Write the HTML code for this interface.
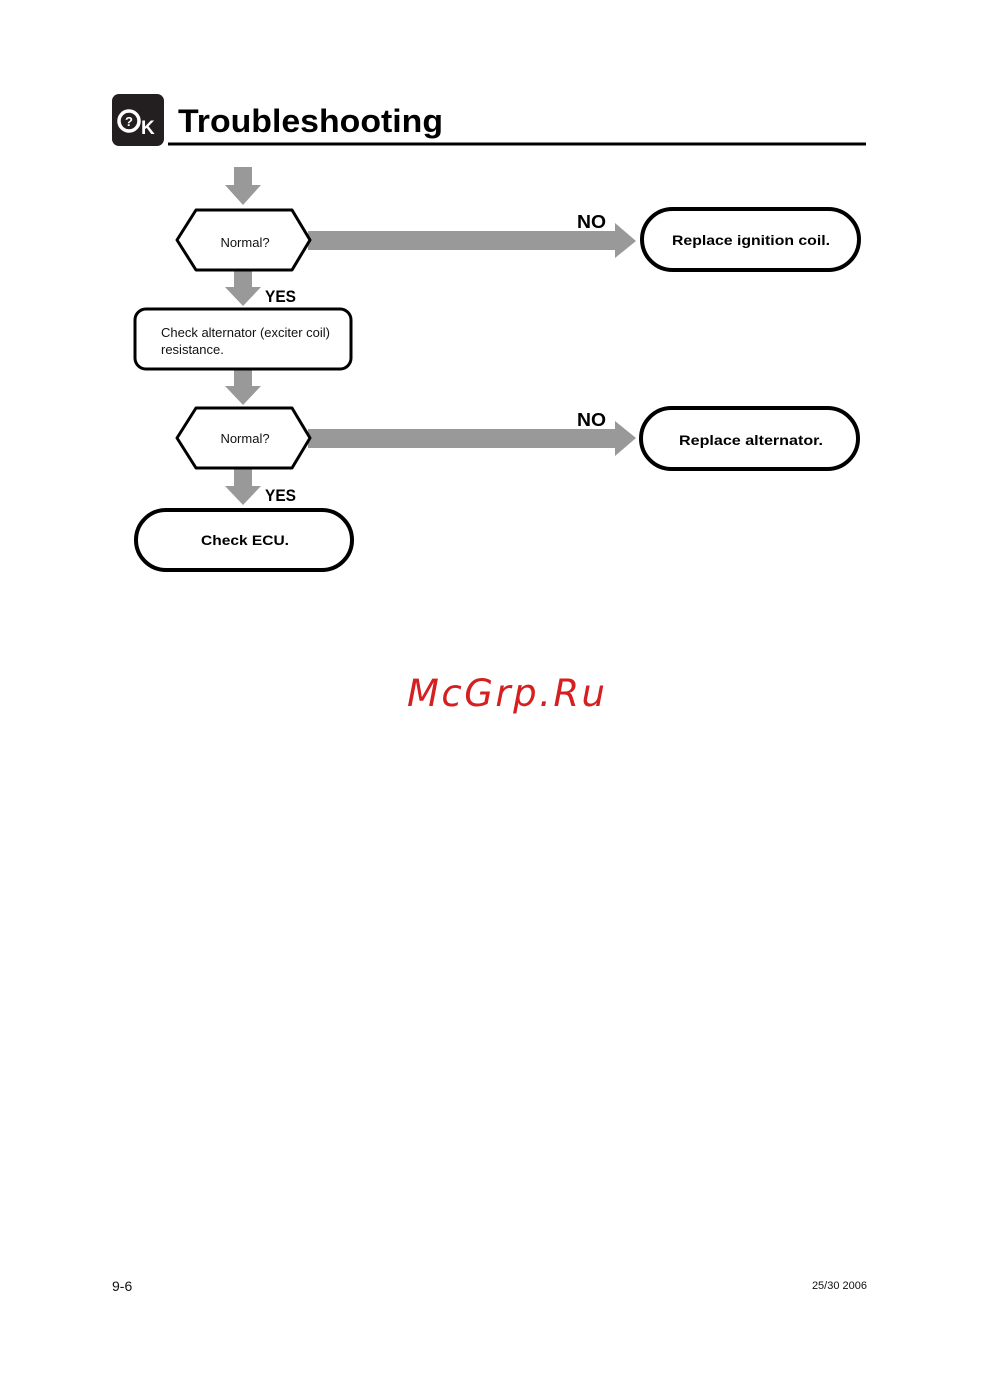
<!DOCTYPE html>
<html><head><meta charset="utf-8"><style>
html,body{margin:0;padding:0;background:#fff;}
svg{display:block;}
</style></head><body>
<svg width="1000" height="1381" viewBox="0 0 1000 1381" xmlns="http://www.w3.org/2000/svg" font-family="Liberation Sans, Arial, sans-serif">
<rect x="112" y="94" width="52" height="52" rx="7" fill="#231f20"/>
<circle cx="129" cy="121" r="10" fill="none" stroke="#fff" stroke-width="3.5"/>
<text x="129" y="126" font-size="13" font-weight="bold" fill="#fff" text-anchor="middle">?</text>
<text x="141" y="134" font-size="19" font-weight="bold" fill="#fff">K</text>
<text x="178" y="132" font-size="32" font-weight="bold" fill="#000" textLength="265" lengthAdjust="spacingAndGlyphs">Troubleshooting</text>
<rect x="168" y="142.5" width="698" height="3" fill="#000"/>

<g fill="#999">
<rect x="234" y="167" width="18" height="19"/><polygon points="225,185 261,185 243,205"/>
<rect x="234" y="270" width="18" height="18"/><polygon points="225,287 261,287 243,306"/>
<rect x="234" y="369" width="18" height="18"/><polygon points="225,386 261,386 243,405"/>
<rect x="234" y="467" width="18" height="20"/><polygon points="225,486 261,486 243,505"/>
<rect x="308" y="231" width="308" height="19"/><polygon points="615,223 615,258 636,241"/>
<rect x="308" y="429" width="308" height="19"/><polygon points="615,421 615,456 636,438"/>
</g>

<g fill="#fff" stroke="#000" stroke-width="3" stroke-linejoin="round">
<polygon points="196,210 292,210 310,240 292,270 196,270 177,240"/>
<polygon points="196,408 292,408 310,438 292,468 196,468 177,438"/>
<rect x="135" y="309" width="216" height="60" rx="11"/>
</g>
<g fill="#fff" stroke="#000" stroke-width="4">
<rect x="642" y="209" width="217" height="61" rx="30.5"/>
<rect x="641" y="408" width="217" height="61" rx="30.5"/>
<rect x="136" y="510" width="216" height="60" rx="30"/>
</g>

<g font-size="13" fill="#111">
<text x="245" y="247" text-anchor="middle">Normal?</text>
<text x="245" y="443" text-anchor="middle">Normal?</text>
<text x="161" y="337" textLength="169" lengthAdjust="spacingAndGlyphs">Check alternator (exciter coil)</text>
<text x="161" y="354">resistance.</text>
</g>
<g font-weight="bold" fill="#000">
<text x="672" y="245" font-size="14" textLength="158" lengthAdjust="spacingAndGlyphs">Replace ignition coil.</text>
<text x="679" y="445" font-size="14" textLength="144" lengthAdjust="spacingAndGlyphs">Replace alternator.</text>
<text x="201" y="545" font-size="14" textLength="88" lengthAdjust="spacingAndGlyphs">Check ECU.</text>
<text x="577" y="228" font-size="18" textLength="29" lengthAdjust="spacingAndGlyphs">NO</text>
<text x="577" y="426" font-size="18" textLength="29" lengthAdjust="spacingAndGlyphs">NO</text>
<text x="265" y="302" font-size="17" textLength="31" lengthAdjust="spacingAndGlyphs">YES</text>
<text x="265" y="501" font-size="17" textLength="31" lengthAdjust="spacingAndGlyphs">YES</text>
</g>

<text x="407" y="706" font-family="DejaVu Sans, sans-serif" font-style="italic" font-size="37" fill="#d42020" textLength="198" lengthAdjust="spacing">McGrp.Ru</text>

<text x="112" y="1291" font-size="14" fill="#111">9-6</text>
<text x="867" y="1289" font-size="11" fill="#111" text-anchor="end">25/30  2006</text>
</svg>
</body></html>
